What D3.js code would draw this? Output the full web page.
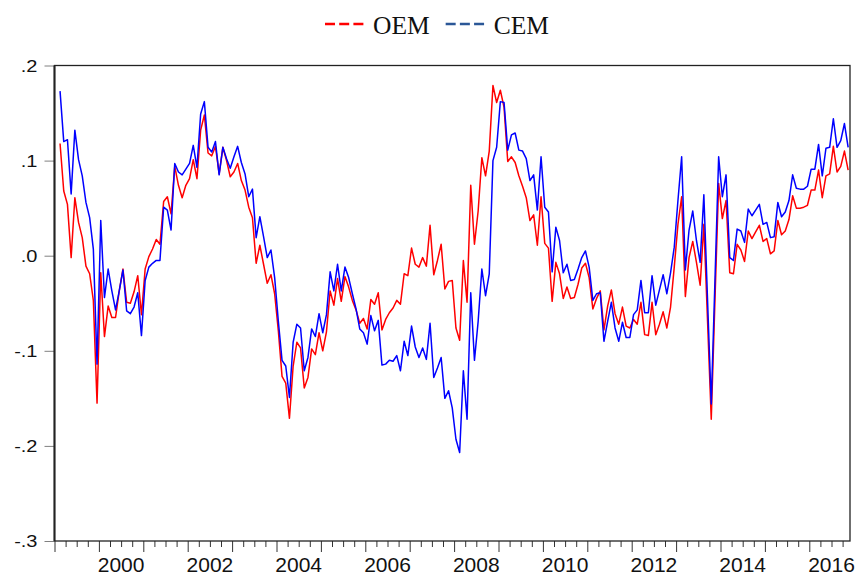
<!DOCTYPE html>
<html>
<head>
<meta charset="utf-8">
<script src="https://cdn.jsdelivr.net/npm/d3@7"></script>
<style>
    body { margin: 0; background: #fff; }
    svg { display: block; }
</style>
</head>
<body>
<div id="chart"></div>
<script>
// monthly series, first observation 1999M02, last 2016M11
const startYear = 1999;
const startMonth = 2;

const oem = [
    0.118, 0.068, 0.054, -0.002, 0.061, 0.035, 0.019, -0.011, -0.019, -0.047, -0.155,
    -0.018, -0.085, -0.053, -0.065, -0.065, -0.037, -0.014, -0.049, -0.050, -0.038, -0.021, -0.062,
    -0.014, -0.001, 0.007, 0.017, 0.012, 0.057, 0.062, 0.044, 0.094, 0.074, 0.061, 0.074,
    0.081, 0.101, 0.081, 0.132, 0.148, 0.108, 0.105, 0.115, 0.086, 0.114, 0.100, 0.083,
    0.088, 0.097, 0.079, 0.069, 0.051, 0.040, -0.008, 0.011, -0.009, -0.029, -0.020, -0.040,
    -0.079, -0.127, -0.134, -0.171, -0.116, -0.091, -0.097, -0.139, -0.128, -0.098, -0.104, -0.081,
    -0.100, -0.080, -0.037, -0.052, -0.024, -0.048, -0.022, -0.033, -0.047, -0.057, -0.071, -0.066,
    -0.077, -0.046, -0.051, -0.039, -0.078, -0.067, -0.060, -0.055, -0.047, -0.051, -0.019, -0.021,
    0.008, -0.009, -0.012, -0.002, -0.011, 0.032, -0.020, -0.005, 0.012, -0.035, -0.027, -0.026,
    -0.076, -0.089, -0.005, -0.049, 0.074, 0.012, 0.047, 0.103, 0.084, 0.110, 0.179, 0.161,
    0.174, 0.156, 0.099, 0.104, 0.098, 0.084, 0.073, 0.061, 0.037, 0.043, 0.011, 0.062,
    0.013, 0.008, -0.048, -0.007, -0.019, -0.045, -0.033, -0.045, -0.044, -0.030, -0.013, -0.008,
    -0.023, -0.056, -0.045, -0.037, -0.078, -0.053, -0.036, -0.061, -0.072, -0.054, -0.074, -0.076,
    -0.067, -0.072, -0.049, -0.083, -0.084, -0.049, -0.083, -0.072, -0.059, -0.076, -0.054, -0.012,
    0.033, 0.062, -0.043, -0.002, 0.015, -0.007, -0.031, 0.033, -0.069, -0.172, -0.047, 0.076,
    0.039, 0.058, -0.018, -0.019, 0.012, 0.006, -0.006, 0.026, 0.018, 0.025, 0.032, 0.015,
    0.018, 0.002, 0.005, 0.037, 0.022, 0.026, 0.038, 0.063, 0.050, 0.050, 0.051, 0.053,
    0.069, 0.069, 0.090, 0.061, 0.084, 0.086, 0.115, 0.088, 0.094, 0.110, 0.090
];

const cem = [
    0.173, 0.120, 0.122, 0.065, 0.132, 0.101, 0.084, 0.056, 0.040, 0.007, -0.114,
    0.037, -0.044, -0.014, -0.037, -0.057, -0.037, -0.015, -0.058, -0.061, -0.054, -0.039, -0.084,
    -0.026, -0.012, -0.008, -0.005, -0.005, 0.051, 0.048, 0.027, 0.097, 0.088, 0.085, 0.091,
    0.097, 0.116, 0.093, 0.149, 0.162, 0.114, 0.109, 0.120, 0.085, 0.114, 0.102, 0.092,
    0.104, 0.115, 0.098, 0.086, 0.062, 0.070, 0.019, 0.041, 0.020, -0.002, 0.006, -0.023,
    -0.069, -0.110, -0.116, -0.149, -0.091, -0.072, -0.076, -0.121, -0.107, -0.077, -0.085, -0.061,
    -0.081, -0.062, -0.017, -0.037, -0.009, -0.037, -0.012, -0.023, -0.040, -0.056, -0.077, -0.081,
    -0.093, -0.063, -0.079, -0.068, -0.115, -0.114, -0.110, -0.111, -0.105, -0.121, -0.090, -0.105,
    -0.074, -0.096, -0.107, -0.097, -0.109, -0.071, -0.128, -0.118, -0.107, -0.150, -0.142, -0.160,
    -0.193, -0.207, -0.121, -0.172, -0.039, -0.110, -0.069, -0.014, -0.042, -0.019, 0.100, 0.114,
    0.162, 0.161, 0.111, 0.127, 0.129, 0.111, 0.110, 0.102, 0.079, 0.085, 0.048, 0.104,
    0.051, 0.046, -0.017, 0.030, 0.016, -0.018, -0.009, -0.026, -0.025, -0.014, -0.002, 0.005,
    -0.012, -0.047, -0.040, -0.039, -0.090, -0.069, -0.049, -0.076, -0.090, -0.070, -0.086, -0.086,
    -0.062, -0.057, -0.026, -0.060, -0.060, -0.021, -0.052, -0.036, -0.020, -0.040, -0.018, 0.009,
    0.058, 0.104, -0.015, 0.027, 0.047, 0.016, -0.007, 0.064, -0.047, -0.156, -0.026, 0.104,
    0.062, 0.085, -0.002, -0.005, 0.028, 0.026, 0.014, 0.049, 0.042, 0.048, 0.054, 0.033,
    0.035, 0.019, 0.020, 0.056, 0.041, 0.046, 0.058, 0.085, 0.071, 0.070, 0.070, 0.073,
    0.091, 0.091, 0.117, 0.084, 0.113, 0.114, 0.144, 0.114, 0.121, 0.139, 0.114
];

const seriesNames = ['OEM', 'CEM'];
const lineColors = ['#ff0000', '#0000ff'];
const legendColors = ['#ff0000', '#2b5797'];

const yTicks = [-0.3, -0.2, -0.1, 0, 0.1, 0.2];
const yTickLabels = ['-.3', '-.2', '-.1', '.0', '.1', '.2'];
const yearLabels = ['2000', '2002', '2004', '2006', '2008', '2010', '2012', '2014', '2016'];

class LineChart {
    constructor(containerId) {
        this.width = 858;
        this.height = 577;
        this.plot = { left: 54.5, right: 850, top: 65.5, bottom: 541 };
        // axis runs over whole months from 1999M01 to 2016M12
        this.totalMonths = 215;

        this.svg = d3.select(`#${containerId}`)
            .append('svg')
            .attr('width', this.width)
            .attr('height', this.height);

        this.x = d3.scaleLinear()
            .domain([0, this.totalMonths])
            .range([this.plot.left, this.plot.right]);
        this.y = d3.scaleLinear()
            .domain([-0.3, 0.2])
            .range([this.plot.bottom, this.plot.top]);
    }

    render() {
        this.drawAxes();
        this.drawLines();
        this.drawFrame();
        this.drawLegend();
    }

    drawAxes() {
        const p = this.plot;

        // quarterly ticks, longer at the start of each year
        const gx = this.svg.append('g')
            .attr('transform', `translate(0,${p.bottom})`)
            .call(d3.axisBottom(this.x)
                .tickValues(d3.range(0, this.totalMonths, 3))
                .tickSize(6)
                .tickFormat(''));
        gx.select('.domain').remove();
        gx.selectAll('.tick line')
            .attr('y2', d => d % 12 === 0 ? 11 : 6)
            .attr('stroke', '#333');

        // year labels sit in the middle of their year
        this.svg.append('g')
            .selectAll('text')
            .data(yearLabels)
            .enter()
            .append('text')
            .attr('x', d => this.x((+d - startYear) * 12 + 6))
            .attr('y', 572)
            .attr('text-anchor', 'middle')
            .attr('font-family', '"Liberation Sans", Arial, sans-serif')
            .attr('font-size', '21px')
            .attr('fill', '#111')
            .text(d => d);

        const sx = 1.25;
        const gy = this.svg.append('g')
            .attr('transform', `translate(${p.left},0)`)
            .call(d3.axisLeft(this.y)
                .tickValues(yTicks)
                .tickFormat((d, i) => yTickLabels[i])
                .tickSize(10));
        gy.select('.domain').remove();
        gy.selectAll('.tick line').attr('stroke', '#808080');
        gy.selectAll('.tick text')
            .attr('x', -17 / sx)
            .attr('dy', '0.36em')
            .attr('transform', `scale(${sx},1)`)
            .attr('font-family', '"Liberation Sans", Arial, sans-serif')
            .attr('font-size', '16px')
            .attr('fill', '#111');
    }

    drawLines() {
        const months = oem.map((_, i) => startMonth - 1 + i);
        const line = d3.line()
            .x((d, i) => this.x(months[i] + 0.5))
            .y(d => this.y(d));

        [oem, cem].forEach((values, k) => {
            this.svg.append('path')
                .datum(values)
                .attr('fill', 'none')
                .attr('stroke', lineColors[k])
                .attr('stroke-width', 1.5)
                .attr('stroke-linejoin', 'round')
                .attr('d', line);
        });
    }

    drawFrame() {
        const p = this.plot;
        this.svg.append('rect')
            .attr('x', p.left)
            .attr('y', p.top)
            .attr('width', p.right - p.left)
            .attr('height', p.bottom - p.top)
            .attr('fill', 'none')
            .attr('stroke', '#222')
            .attr('stroke-width', 1.3);
        this.svg.append('line')
            .attr('x1', p.left).attr('x2', p.left)
            .attr('y1', p.top).attr('y2', p.bottom)
            .attr('stroke', '#222')
            .attr('stroke-width', 2);
    }

    drawLegend() {
        const g = this.svg.append('g');
        let cx = 325;
        const cy = 24;
        seriesNames.forEach((name, k) => {
            g.append('line')
                .attr('x1', cx).attr('x2', cx + 38.5)
                .attr('y1', cy).attr('y2', cy)
                .attr('stroke', legendColors[k])
                .attr('stroke-width', 2.6)
                .attr('stroke-dasharray', '10,4.2');
            const t = g.append('text')
                .attr('x', cx + 48)
                .attr('y', 34)
                .attr('font-family', '"Liberation Serif", "Times New Roman", serif')
                .attr('font-size', '25.5px')
                .attr('fill', '#111')
                .text(name);
            cx = cx + 48 + t.node().getComputedTextLength() + 16;
        });
    }
}

const chart = new LineChart('chart');
chart.render();
</script>
</body>
</html>
